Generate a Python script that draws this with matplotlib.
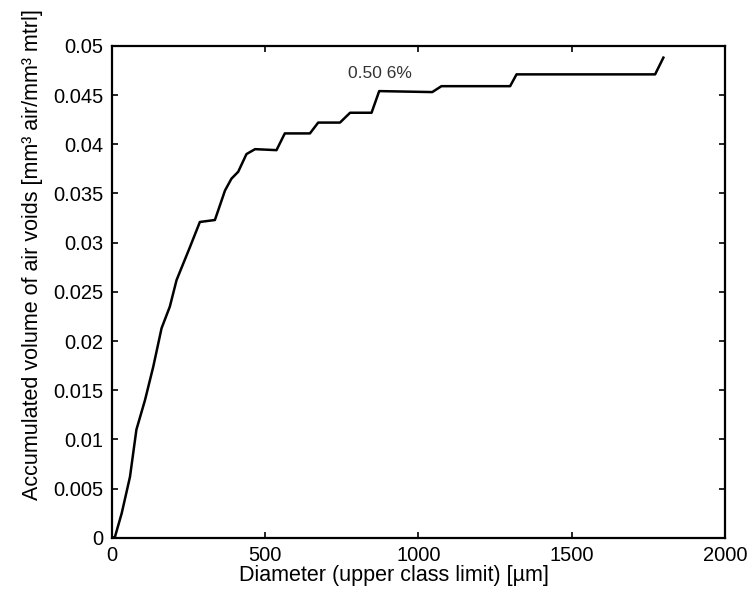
import matplotlib
matplotlib.use("Agg")
import matplotlib.pyplot as plt

# accumulated air void volume vs. diameter
diameter = [0, 10, 32, 59, 80, 108, 135, 162, 189, 211, 254, 287, 336, 369, 390,
            412, 439, 467, 537, 564, 646, 673, 744, 777, 847, 872, 1045, 1075,
            1299, 1320, 1772, 1799]
volume = [0, 0.0001, 0.0025, 0.0062, 0.011, 0.014, 0.0174, 0.0213, 0.0235,
          0.0262, 0.0295, 0.0321, 0.0323, 0.0353, 0.0365, 0.0372, 0.039, 0.0395,
          0.0394, 0.0411, 0.0411, 0.0422, 0.0422, 0.0432, 0.0432, 0.0454, 0.0453,
          0.0459, 0.0459, 0.0471, 0.0471, 0.0488]

x_ticks = [0, 500, 1000, 1500, 2000]
y_ticks = [0, 0.005, 0.01, 0.015, 0.02, 0.025, 0.03, 0.035, 0.04, 0.045, 0.05]
y_tick_labels = ["0", "0.005", "0.01", "0.015", "0.02", "0.025", "0.03",
                 "0.035", "0.04", "0.045", "0.05"]

plt.rcParams["font.family"] = ["Liberation Sans", "DejaVu Sans"]

fig = plt.figure(figsize=(7.56, 6.03), dpi=100)
ax = fig.add_axes([0.148, 0.108, 0.811, 0.816])
ax.plot(diameter, volume, color="black", linewidth=1.8)
ax.text(874, 0.0472, "0.50 6%", fontsize=12.5, color="#333333", ha="center", va="center")

ax.set_xlim(0, 2000)
ax.set_ylim(0, 0.05)
ax.set_xticks(x_ticks)
ax.set_yticks(y_ticks)
ax.set_yticklabels(y_tick_labels)
ax.tick_params(direction="in", top=True, right=True, labelsize=14.5, length=4, width=1.2)
ax.tick_params(axis="x", pad=6)
ax.tick_params(axis="y", pad=6)
for s in ax.spines.values():
    s.set_linewidth(1.6)

ax.set_xlabel("Diameter (upper class limit) [µm]", fontsize=15.5)
ax.set_ylabel("Accumulated volume of air voids [mm³ air/mm³ mtrl]", fontsize=15.5)
ax.xaxis.set_label_coords(0.46, -0.055)
ax.yaxis.set_label_coords(-0.112, 0.575)

fig.savefig("out.png", dpi=100)
